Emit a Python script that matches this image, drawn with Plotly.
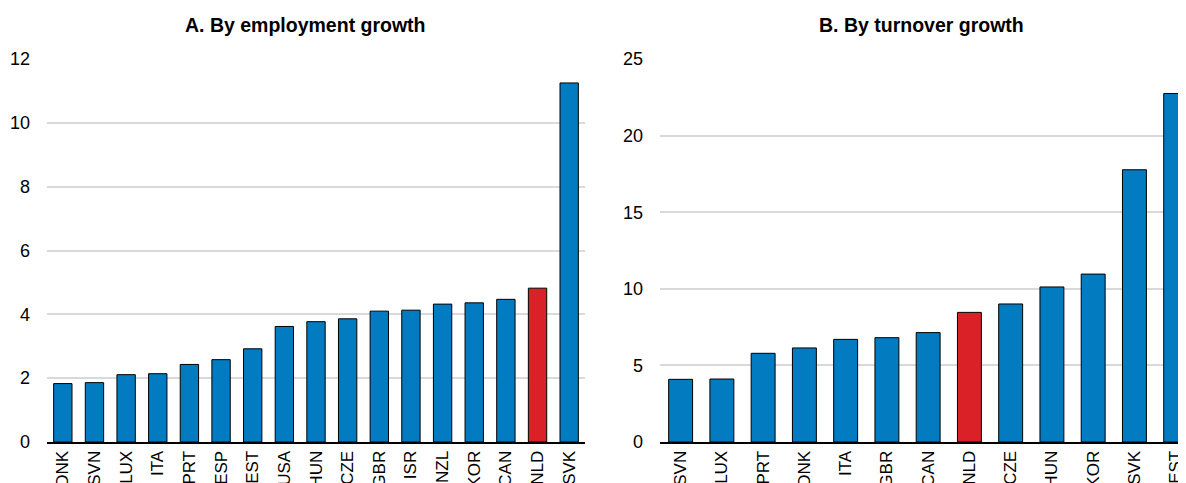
import plotly.graph_objects as go

# Panel A - by employment growth
emp_countries = ["DNK", "SVN", "LUX", "ITA", "PRT", "ESP", "EST", "USA", "HUN",
                 "CZE", "GBR", "ISR", "NZL", "KOR", "CAN", "NLD", "SVK"]
emp_values = [1.83, 1.86, 2.11, 2.14, 2.43, 2.58, 2.92, 3.62, 3.77,
              3.86, 4.10, 4.13, 4.32, 4.36, 4.47, 4.82, 11.25]

# Panel B - by turnover growth
turn_countries = ["SVN", "LUX", "PRT", "DNK", "ITA", "GBR", "CAN", "NLD", "CZE",
                  "HUN", "KOR", "SVK", "EST"]
turn_values = [4.09, 4.11, 5.79, 6.14, 6.70, 6.81, 7.14, 8.46, 9.01,
               10.12, 10.96, 17.77, 22.75]

BLUE = "#037bc1"
RED = "#da2128"


def colours(countries):
    return [RED if c == "NLD" else BLUE for c in countries]


fig = go.Figure()

fig.add_trace(go.Bar(
    x=emp_countries, y=emp_values,
    marker=dict(color=colours(emp_countries), line=dict(color="black", width=1)),
    xaxis="x", yaxis="y", showlegend=False
))
fig.add_trace(go.Bar(
    x=turn_countries, y=turn_values,
    marker=dict(color=colours(turn_countries), line=dict(color="black", width=1)),
    xaxis="x2", yaxis="y2", showlegend=False
))

# page body adds 8px margin, so the figure is a bit smaller than the window
W, H = 1178, 475

xcommon = dict(
    type="category", tickangle=-90, showgrid=False, ticks="",
    showline=True, linecolor="black", linewidth=2,
    tickfont=dict(size=17), automargin=False,
)
ycommon = dict(
    showgrid=True, gridcolor="#d9d9d9", gridwidth=1.5,
    zeroline=False, showline=False, ticks="", ticklabelstandoff=16,
    tickfont=dict(size=18), automargin=False,
)

fig.update_layout(
    width=W, height=H,
    font=dict(family="Liberation Sans, Arial, sans-serif", size=17, color="black"),
    paper_bgcolor="white", plot_bgcolor="white",
    margin=dict(l=0, r=0, t=51, b=41),
    bargap=0.42,
    xaxis=dict(domain=[39 / W, 577 / W], anchor="y", range=[-0.5, 16.5], **xcommon),
    yaxis=dict(domain=[0, 1], anchor="x", range=[0, 12], dtick=2, **ycommon),
    xaxis2=dict(domain=[652 / W, 1], anchor="y2", range=[-0.5, 12.25], **xcommon),
    yaxis2=dict(domain=[0, 1], anchor="x2", range=[0, 25], dtick=5, **ycommon),
    annotations=[
        dict(text="<b>A. By employment growth</b>", x=297 / W, y=1, xref="paper",
             yref="paper", xanchor="center", yanchor="middle", yshift=34,
             showarrow=False, font=dict(size=19.5)),
        dict(text="<b>B. By turnover growth</b>", x=913 / W, y=1, xref="paper",
             yref="paper", xanchor="center", yanchor="middle", yshift=34,
             showarrow=False, font=dict(size=19.5)),
    ],
)

fig.write_html("out.html")
